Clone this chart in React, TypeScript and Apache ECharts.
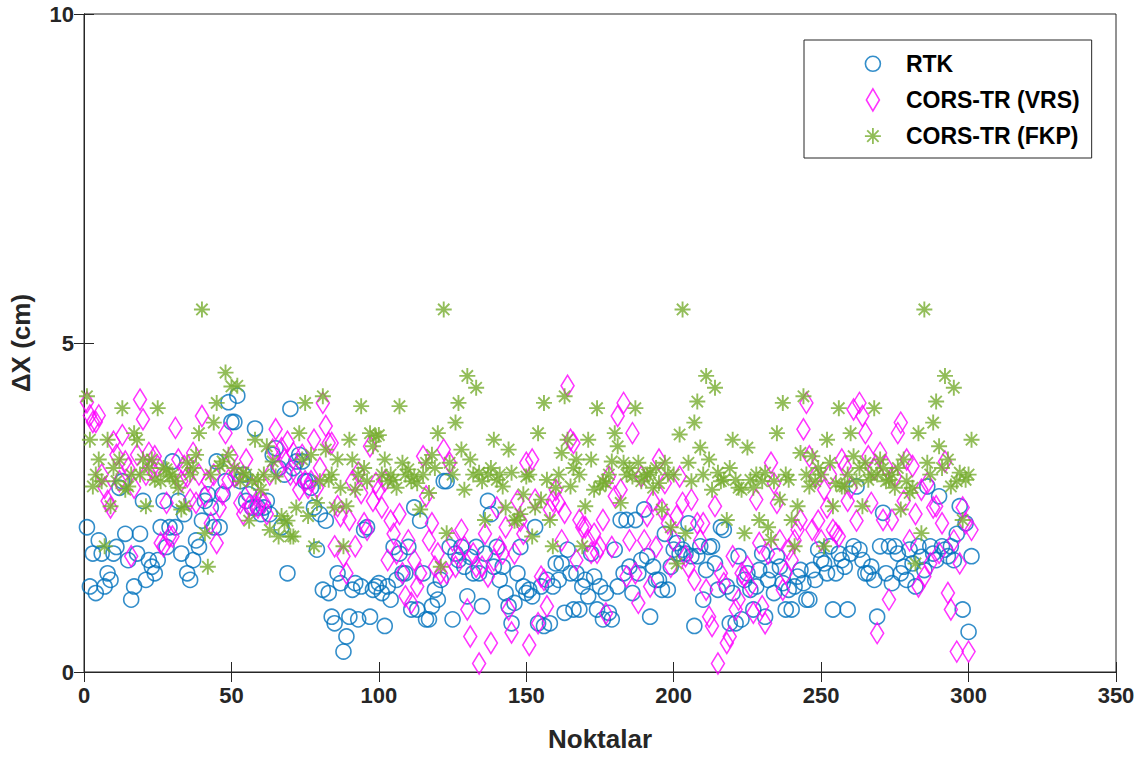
import React, { useEffect, useRef } from "react";
import * as echarts from "echarts";

const xTicks = [0, 50, 100, 150, 200, 250, 300, 350];
const yTicks = [0, 5, 10];
const seriesNames = ["RTK", "CORS-TR (VRS)", "CORS-TR (FKP)"];

// RTK, points 1..301
const rtk = [
  2.2, 1.3, 1.8, 1.2, 2.0, 1.8, 1.3, 1.5, 1.4, 1.8,
  1.9, 2.8, 2.9, 2.1, 1.7, 1.1, 1.3, 1.8, 2.1, 2.6,
  1.4, 1.7, 1.6, 1.5, 1.7, 2.2, 2.6, 1.9, 2.2, 3.2,
  2.2, 2.6, 1.8, 2.4, 1.5, 1.4, 1.7, 2.0, 1.9, 2.3,
  2.6, 2.7, 2.5, 2.2, 3.2, 2.2, 2.7, 2.9, 4.1, 3.8,
  3.8, 4.2, 2.9, 3.0, 2.6, 2.7, 2.5, 3.7, 2.5, 2.4,
  2.5, 2.6, 2.4, 3.3, 3.4, 3.1, 2.2, 3.0, 1.5, 4.0,
  3.1, 3.2, 3.3, 3.2, 2.9, 2.9, 2.8, 2.5, 1.86, 2.4,
  1.25, 2.3, 1.2, 0.84, 0.74, 1.5, 1.35, 0.31, 0.54, 0.84,
  1.25, 1.35, 0.8, 1.3, 2.16, 2.2, 0.84, 1.25, 1.3, 1.35,
  1.2, 0.7, 1.3, 1.1, 1.9, 1.4, 1.8, 1.5, 1.5, 1.9,
  0.95, 2.5, 0.95, 2.3, 1.5, 0.8, 0.8, 1.0, 1.25, 1.1,
  1.4, 2.9, 2.9, 1.9, 0.8, 1.8, 1.7, 1.9, 1.6, 1.15,
  1.75, 1.5, 1.9, 1.5, 1.0, 1.8, 2.6, 2.4, 1.6, 1.9,
  1.4, 1.6, 1.2, 1.0, 0.74, 1.05, 1.5, 1.9, 1.3, 1.2,
  1.25, 1.15, 2.2, 0.74, 1.3, 0.7, 1.4, 0.74, 1.3, 1.65,
  1.4, 1.65, 0.9, 1.86, 1.5, 0.95, 1.5, 0.95, 1.3, 1.4,
  1.15, 1.8, 1.45, 0.95, 1.3, 0.8, 1.2, 0.9, 0.8, 1.86,
  1.3, 2.31, 1.5, 2.31, 1.6, 1.2, 2.31, 1.5, 1.7, 2.47,
  1.76, 0.84, 1.6, 1.4, 1.4, 1.25, 2.1, 1.25, 1.6, 1.86,
  1.96, 1.8, 1.86, 1.8, 2.26, 1.76, 0.7, 1.76, 1.91, 1.1,
  1.55, 1.9, 1.91, 1.65, 1.25, 2.2, 2.16, 1.3, 0.74, 1.2,
  0.74, 1.76, 0.8, 1.4, 1.5, 1.25, 0.95, 1.3, 1.55, 1.8,
  0.84, 1.4, 1.55, 1.2, 1.76, 1.6, 1.35, 0.95, 1.25, 0.95,
  1.3, 1.45, 1.55, 1.35, 1.1, 1.1, 1.55, 1.4, 1.86, 1.7,
  1.65, 1.5, 1.91, 0.95, 1.5, 1.8, 1.7, 1.6, 0.95, 1.8,
  1.91, 2.82, 1.86, 1.7, 1.5, 1.5, 1.6, 1.4, 0.84, 1.91,
  2.42, 1.5, 1.91, 1.35, 1.91, 1.8, 1.5, 1.6, 1.4, 1.86,
  1.65, 1.3, 1.91, 1.75, 1.55, 2.82, 1.91, 1.8, 1.7, 2.67,
  1.91, 1.86, 1.76, 1.91, 1.7, 2.1, 2.52, 0.95, 2.26, 0.61,
  1.76,
];

// CORS-TR (VRS), points 1..301
const vrs = [
  4.1, 3.9, 3.8, 3.8, 3.9, 3.0, 2.8, 2.6, 2.5, 3.5,
  3.3, 2.9, 3.6, 3.2, 3.1, 1.76, 2.8, 3.3, 4.14, 3.84,
  3.0, 3.33, 3.08, 3.28, 3.13, 1.96, 1.91, 2.57, 2.06, 2.06,
  3.71, 3.23, 2.9, 3.13, 2.97, 2.62, 3.33, 2.57, 3.0, 3.89,
  2.67, 2.9, 2.26, 3.0, 1.96, 2.5, 2.7, 3.63, 2.92, 3.28,
  2.97, 3.0, 2.57, 2.4, 3.23, 2.52, 2.8, 2.52, 2.5, 2.6,
  2.57, 2.4, 3.0, 3.38, 3.69, 3.1, 3.4, 3.23, 3.5, 3.0,
  3.33, 3.0, 2.77, 3.3, 2.9, 2.8, 2.9, 3.53, 2.8, 3.1,
  4.09, 3.74, 3.48, 3.48, 1.91, 2.52, 2.37, 1.76, 1.5, 2.31,
  2.9, 1.91, 3.03, 2.72, 2.26, 2.16, 3.43, 2.6, 2.87, 2.77,
  2.5, 2.9, 1.7, 2.3, 2.1, 1.8, 2.4, 1.5, 1.15, 2.0,
  1.05, 1.7, 1.3, 1.5, 3.28, 2.67, 2.0, 2.26, 1.6, 1.8,
  1.5, 3.38, 1.5, 3.18, 2.0, 1.6, 1.75, 2.16, 1.9, 0.95,
  0.54, 1.8, 1.6, 0.13, 1.6, 2.1, 1.45, 0.44, 1.7, 2.5,
  1.9, 1.8, 2.2, 0.95, 0.6, 1.8, 2.6, 2.3, 2.1, 3.18,
  0.41, 3.23, 2.62, 0.74, 1.45, 1.4, 1.0, 2.47, 2.6, 2.77,
  2.57, 2.0, 2.42, 4.35, 3.53, 3.48, 1.7, 2.31, 2.2, 2.2,
  2.0, 1.81, 2.1, 1.81, 1.9, 2.31, 0.89, 2.97, 1.9, 2.67,
  3.89, 2.77, 4.09, 1.45, 2.0, 3.63, 1.5, 1.05, 2.97, 2.0,
  2.37, 1.3, 2.6, 1.9, 3.23, 2.47, 2.87, 2.26, 1.6, 2.0,
  2.37, 2.97, 2.57, 1.76, 1.6, 2.62, 1.4, 2.26, 2.0, 2.26,
  1.25, 0.84, 0.7, 2.52, 0.13, 1.5, 1.35, 0.44, 0.54, 1.76,
  0.95, 1.1, 1.5, 1.45, 1.6, 1.3, 0.9, 2.62, 1.96, 1.0,
  0.74, 1.8, 3.18, 2.87, 2.57, 2.0, 1.25, 1.5, 1.86, 1.7,
  2.0, 2.16, 2.31, 3.69, 4.09, 3.28, 2.16, 2.97, 2.3, 2.0,
  2.77, 2.5, 3.0, 2.16, 2.11, 2.06, 3.23, 3.13, 2.6, 2.8,
  3.99, 2.3, 4.09, 3.89, 3.63, 3.28, 2.57, 3.08, 0.59, 3.33,
  2.31, 3.13, 1.1, 2.31, 2.97, 3.63, 3.79, 2.6, 3.23, 2.0,
  3.13, 2.4, 1.3, 2.77, 1.45, 2.87, 1.65, 2.5, 2.52, 1.81,
  2.26, 3.2, 1.2, 0.95, 2.0, 0.31, 1.65, 2.5, 2.26, 0.31,
  2.16,
];

// CORS-TR (FKP), points 1..301
const fkp = [
  4.19, 3.53, 2.82, 3.0, 3.23, 2.9, 1.91, 3.53, 2.52, 3.1,
  2.9, 3.23, 4.01, 2.77, 2.82, 3.0, 3.63, 3.53, 3.0, 3.23,
  2.52, 3.1, 3.23, 2.92, 4.01, 2.9, 3.1, 3.08, 2.97, 3.0,
  2.9, 2.8, 2.47, 2.52, 3.18, 3.0, 3.1, 3.3, 3.63, 5.51,
  2.11, 1.6, 3.0, 3.79, 4.09, 3.13, 3.2, 4.55, 3.3, 4.34,
  3.1, 4.35, 2.9, 3.03, 3.0, 2.3, 2.9, 3.53, 2.92, 2.77,
  3.0, 3.43, 2.16, 3.2, 2.97, 2.06, 2.37, 2.26, 2.3, 2.06,
  2.06, 2.5, 3.63, 3.23, 4.09, 2.37, 3.3, 1.91, 2.57, 2.9,
  4.19, 3.38, 2.92, 3.0, 2.5, 3.23, 2.8, 1.91, 2.52, 3.53,
  3.23, 2.77, 3.0, 4.04, 3.1, 2.9, 3.63, 3.43, 3.58, 3.6,
  3.0, 3.23, 2.9, 3.0, 2.92, 2.8, 4.04, 3.18, 3.0, 3.08,
  2.9, 2.97, 2.87, 2.47, 3.0, 3.18, 2.72, 3.3, 3.1, 3.63,
  1.6, 5.51, 2.11, 3.18, 3.0, 3.79, 4.09, 3.38, 2.77, 4.5,
  3.23, 3.0, 4.32, 3.03, 2.9, 2.31, 3.0, 3.1, 3.53, 2.92,
  3.0, 2.82, 2.5, 3.38, 3.03, 2.3, 2.31, 2.4, 2.7, 2.97,
  3.0, 2.06, 2.5, 3.63, 2.62, 4.09, 2.92, 2.31, 1.91, 2.8,
  3.0, 3.33, 4.19, 3.53, 2.82, 3.1, 3.23, 3.0, 1.91, 2.52,
  3.53, 3.23, 2.77, 4.01, 2.82, 2.9, 2.87, 3.0, 3.2, 3.63,
  3.43, 2.57, 3.18, 3.0, 3.1, 2.97, 4.01, 3.18, 2.9, 2.97,
  3.0, 3.03, 2.8, 3.1, 2.87, 2.47, 3.18, 3.0, 2.2, 3.0,
  1.65, 3.61, 5.51, 2.11, 3.18, 2.9, 3.79, 4.11, 3.41, 3.0,
  4.5, 3.23, 2.77, 4.32, 3.03, 2.9, 2.92, 2.31, 3.1, 3.53,
  2.92, 2.8, 2.77, 2.11, 3.41, 2.92, 2.8, 3.0, 2.31, 2.9,
  3.03, 2.2, 2.01, 2.9, 3.63, 2.62, 4.09, 3.0, 2.92, 2.31,
  1.91, 2.52, 3.33, 4.19, 3.0, 2.82, 3.28, 2.9, 3.1, 3.0,
  1.91, 3.53, 3.18, 2.52, 2.87, 4.01, 2.82, 2.82, 3.0, 3.63,
  3.28, 2.9, 3.1, 2.52, 3.18, 2.92, 3.0, 4.01, 3.0, 3.23,
  3.1, 2.9, 2.92, 3.0, 2.8, 3.1, 2.47, 3.23, 2.9, 2.72,
  2.8, 1.65, 3.63, 2.11, 5.51, 3.18, 3.0, 3.79, 4.11, 3.43,
  3.1, 4.5, 3.23, 2.82, 4.32, 2.9, 3.03, 2.31, 2.92, 3.0,
  3.53,
];

const COLORS = ["#0072BD", "#FF00FF", "#77AC30"];
const FONT = "'Liberation Sans', Arial, Helvetica, sans-serif";
const AXIS_COLOR = "#262626";

const ASTERISK = "path://M8,0L8,16M0,8L16,8M2.34,2.34L13.66,13.66M2.34,13.66L13.66,2.34";
const LEG_CIRCLE = "path://M0,0M56,22M35.5,11A7.5,7.5,0,1,1,20.5,11A7.5,7.5,0,1,1,35.5,11Z";
const LEG_DIAMOND = "path://M0,0M56,22M28,0L34.5,11L28,22L21.5,11Z";
const LEG_STAR = "path://M0,0M56,22M28,3L28,19M20,11L36,11M22.3,5.3L33.7,16.7M22.3,16.7L33.7,5.3";

function toPoints(vals: number[]) {
  return vals.map((v, i) => [i + 1, v]);
}

export default function App() {
  const ref = useRef<HTMLDivElement>(null);

  useEffect(() => {
    if (!ref.current) return;
    const chart = echarts.init(ref.current, undefined, { renderer: "svg" });
    const tickStyle = { inside: true, length: 10, lineStyle: { color: AXIS_COLOR, width: 1 } };
    const lineStyle = { show: true, lineStyle: { color: AXIS_COLOR, width: 1 } };
    const labelStyle = { fontFamily: FONT, fontWeight: "bold" as const, fontSize: 22, color: AXIS_COLOR };

    chart.setOption({
      animation: false,
      backgroundColor: "#ffffff",
      grid: {
        left: 84,
        right: 28,
        top: 14,
        bottom: 89,
        show: true,
        borderColor: AXIS_COLOR,
        borderWidth: 1,
        backgroundColor: "transparent",
      },
      legend: {
        orient: "vertical",
        left: 804,
        top: 40,
        padding: [12, 12, 10, 40],
        itemWidth: 56,
        itemHeight: 22,
        itemGap: 12.5,
        borderColor: AXIS_COLOR,
        borderWidth: 1,
        backgroundColor: "#ffffff",
        selectedMode: false,
        textStyle: { fontFamily: FONT, fontWeight: "bold", fontSize: 23, color: "#000000" },
        data: [
          { name: seriesNames[0], icon: LEG_CIRCLE, itemStyle: { color: "transparent", borderColor: COLORS[0], borderWidth: 1.6 } },
          { name: seriesNames[1], icon: LEG_DIAMOND, itemStyle: { color: "transparent", borderColor: COLORS[1], borderWidth: 1.6 } },
          { name: seriesNames[2], icon: LEG_STAR, itemStyle: { color: "transparent", borderColor: COLORS[2], borderWidth: 1.8 } },
        ],
      },
      xAxis: [
        {
          type: "value",
          min: xTicks[0],
          max: xTicks[xTicks.length - 1],
          interval: 50,
          position: "bottom",
          name: "Noktalar",
          nameLocation: "middle",
          nameGap: 54,
          nameTextStyle: { fontFamily: FONT, fontWeight: "bold", fontSize: 26, color: AXIS_COLOR },
          axisLine: lineStyle,
          axisTick: tickStyle,
          axisLabel: { ...labelStyle, margin: 12 },
          splitLine: { show: false },
        },
        {
          type: "value",
          min: xTicks[0],
          max: xTicks[xTicks.length - 1],
          interval: 50,
          position: "top",
          axisLine: lineStyle,
          axisTick: tickStyle,
          axisLabel: { show: false },
          splitLine: { show: false },
        },
      ],
      yAxis: [
        {
          type: "value",
          min: yTicks[0],
          max: yTicks[yTicks.length - 1],
          interval: 5,
          position: "left",
          name: "ΔX (cm)",
          nameLocation: "middle",
          nameGap: 50,
          nameTextStyle: { fontFamily: FONT, fontWeight: "bold", fontSize: 26, color: AXIS_COLOR },
          axisLine: lineStyle,
          axisTick: tickStyle,
          axisLabel: { ...labelStyle, margin: 10 },
          splitLine: { show: false },
        },
        {
          type: "value",
          min: yTicks[0],
          max: yTicks[yTicks.length - 1],
          interval: 5,
          position: "right",
          axisLine: lineStyle,
          axisTick: tickStyle,
          axisLabel: { show: false },
          splitLine: { show: false },
        },
      ],
      series: [
        {
          name: seriesNames[0],
          type: "scatter",
          data: toPoints(rtk),
          symbol: "circle",
          symbolSize: 15,
          itemStyle: { color: "transparent", borderColor: COLORS[0], borderWidth: 1.6 },
        },
        {
          name: seriesNames[1],
          type: "scatter",
          data: toPoints(vrs),
          symbol: "diamond",
          symbolSize: [13, 21],
          itemStyle: { color: "transparent", borderColor: COLORS[1], borderWidth: 1.6 },
        },
        {
          name: seriesNames[2],
          type: "scatter",
          data: toPoints(fkp),
          symbol: ASTERISK,
          symbolSize: 16,
          itemStyle: { color: "transparent", borderColor: COLORS[2], borderWidth: 1.9 },
        },
      ],
    });
    return () => chart.dispose();
  }, []);

  return (
    <div
      ref={ref}
      style={{ position: "fixed", left: 0, top: 0, width: 1144, height: 761, background: "#ffffff" }}
    />
  );
}
